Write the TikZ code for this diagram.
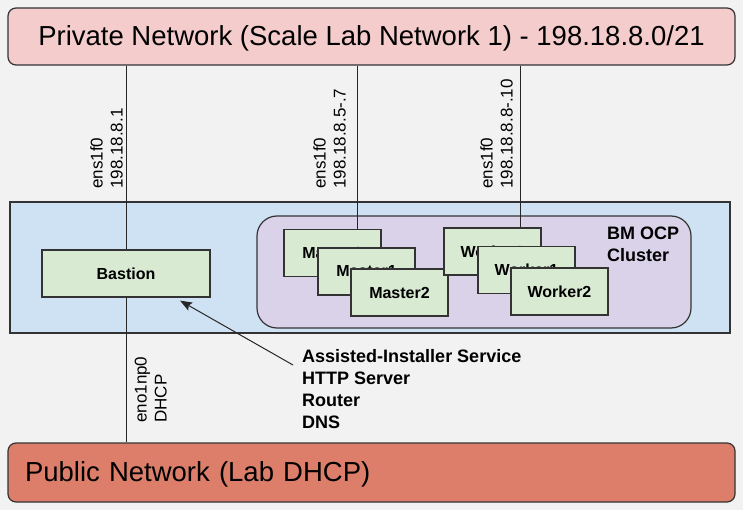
\documentclass[tikz,border=0pt]{standalone}
\usepackage{fontspec}
\setmainfont{Liberation Sans}
\usetikzlibrary{arrows.meta}
\definecolor{bggray}{HTML}{F2F2F2}
\definecolor{privpink}{HTML}{F4CCCC}
\definecolor{pubred}{HTML}{DD7E6B}
\definecolor{labblue}{HTML}{CFE2F3}
\definecolor{clusterpurple}{HTML}{D9D2E9}
\definecolor{srvgreen}{HTML}{D9EAD3}
\begin{document}
\begin{tikzpicture}[x=1pt, y=-1pt]
\tikzstyle{network}=[draw=black!80, line width=1.2pt, rounded corners=8pt, minimum width=727pt, inner sep=0pt, text height=18pt, text depth=0pt, font=\fontsize{27.5}{32}\selectfont]
\tikzstyle{server}=[draw=black!80, fill=srvgreen, line width=1.2pt, minimum width=97pt, minimum height=47pt, inner sep=0pt, font=\fontsize{16}{19}\selectfont\bfseries]
\tikzstyle{iface}=[rotate=90, anchor=south west, align=left, inner sep=0pt, font=\fontsize{17}{20}\selectfont]
\tikzstyle{link}=[draw=black!85, line width=1pt]
  \fill[bggray] (0,0) rectangle (743,510);
  \useasboundingbox (0,0) rectangle (743,510);
  % networks
  \node[network, fill=privpink, minimum height=57pt] (private) at (371.5,36.5)
    {Private Network (Scale Lab Network 1) - 198.18.8.0/21};
  \node[network, fill=pubred, minimum height=59pt, text width=693pt, inner xsep=17pt, align=left] (public) at (371.5,472.5)
    {Public Network (Lab DHCP)};
  % lab and cluster
  \node[draw=black!80, fill=labblue, line width=1.2pt, minimum width=720pt, minimum height=131pt] (lab) at (370,267.5) {};
  \node[draw=black!80, fill=clusterpurple, line width=1.2pt, rounded corners=20pt, minimum width=434pt, minimum height=112pt] (cluster) at (474,272) {};
  \node[anchor=north west, align=left, inner sep=0pt, font=\fontsize{18}{22}\selectfont\bfseries] (clusterlabel) at (607,227) {BM OCP\\Cluster};
  \node[server, minimum width=168pt] (bastion) at (126,273.5) {Bastion};
  \foreach \place/\name/\label in {{(332.5,253)/m0/Master0},
                                   {(366.5,271.5)/m1/Master1},
                                   {(399.5,292.5)/m2/Master2},
                                   {(492.5,251.5)/w0/Worker0},
                                   {(526.5,270)/w1/Worker1},
                                   {(559.5,291.5)/w2/Worker2}}
    \node[server] (\name) at \place {\label};
  % links
  \coordinate (m0port) at ([xshift=-24pt]m0.north east);
  \coordinate (w0port) at ([xshift=-21pt]w0.north east);
  \draw[link] (private.south -| bastion.north) -- (bastion.north);
  \draw[link] (private.south -| m0port) -- (m0port);
  \draw[link] (private.south -| w0port) -- (w0port);
  \draw[link] (bastion.south) -- (public.north -| bastion.south);
  \node[iface] (bastionip) at (123,189) {ens1f0\\198.18.8.1};
  \node[iface] (masterip) at (346,189) {ens1f0\\198.18.8.5-.7};
  \node[iface] (workerip) at (513,189) {ens1f0\\198.18.8.8-.10};
  \node[iface] (dhcp) at (167,423) {eno1np0\\DHCP};
  % services
  \node[anchor=north west, align=left, inner sep=0pt, font=\fontsize{18}{22}\selectfont\bfseries] (services) at (302,349)
    {Assisted-Installer Service\\HTTP Server\\Router\\DNS};
  \coordinate (svctail) at (293,365);
  \coordinate (svchead) at ([xshift=54pt, yshift=-3pt]bastion.south);
  \draw[link, -{Stealth[length=12pt, width=9pt, inset=2pt]}] (svctail) -- (svchead);
\end{tikzpicture}
\end{document}
